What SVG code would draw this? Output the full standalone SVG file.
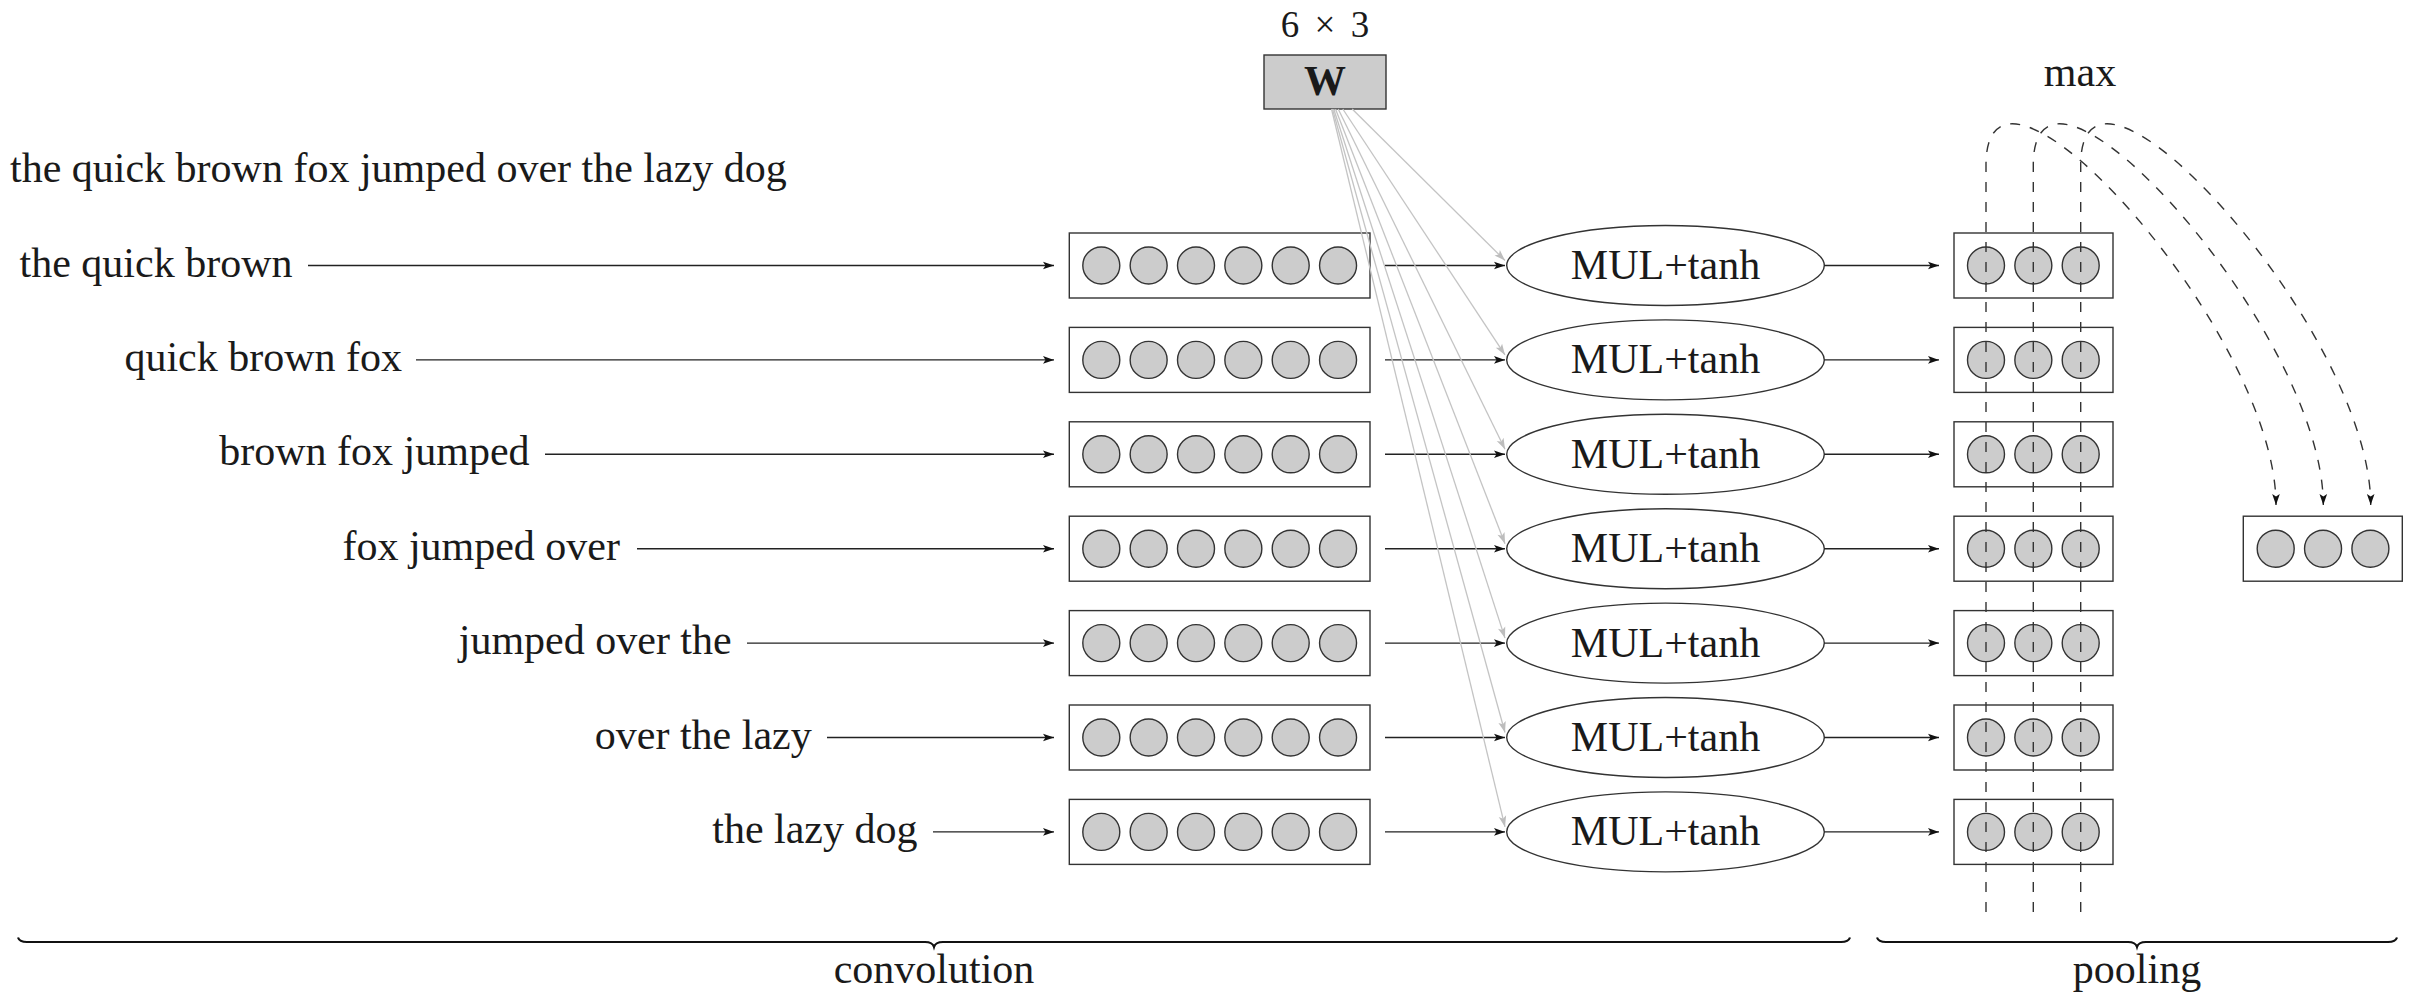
<svg xmlns="http://www.w3.org/2000/svg" width="2414" height="1006" viewBox="0 0 2414 1006">
<defs>
<style>
text{font-family:"Liberation Serif","Times New Roman",serif;font-size:42px;fill:#1a1a1a}
.lbl{text-anchor:end}
.mid{text-anchor:middle}
.box{fill:#fff;stroke:#333;stroke-width:1.4}
.cell{fill:#cccccc;stroke:#333;stroke-width:1.4}
.ell{fill:#fff;stroke:#333;stroke-width:1.4}
.arr{fill:none;stroke:#222;stroke-width:1.4;marker-end:url(#ah)}
.garr{fill:none;stroke:#c4c4c4;stroke-width:1.3;marker-end:url(#gah)}
.darr{fill:none;stroke:#333;stroke-width:1.4;stroke-dasharray:10 10;marker-end:url(#ah)}
.brace{fill:none;stroke:#111;stroke-width:2.2}
</style>
<marker id="ah" markerUnits="userSpaceOnUse" viewBox="-12 -5 13 10" refX="0" refY="0" markerWidth="13" markerHeight="10" orient="auto">
<path d="M0,0 L-11,-3.8 L-8.5,0 L-11,3.8 Z" fill="#111"/>
</marker>
<marker id="gah" markerUnits="userSpaceOnUse" viewBox="-12 -5 13 10" refX="0" refY="0" markerWidth="13" markerHeight="10" orient="auto">
<path d="M0,0 L-11,-3.8 L-8.5,0 L-11,3.8 Z" fill="#bdbdbd"/>
</marker>
<g id="conv6">
<circle class="cell" cx="0" cy="0" r="18.5"/>
<circle class="cell" cx="47.35" cy="0" r="18.5"/>
<circle class="cell" cx="94.7" cy="0" r="18.5"/>
<circle class="cell" cx="142.05" cy="0" r="18.5"/>
<circle class="cell" cx="189.4" cy="0" r="18.5"/>
<circle class="cell" cx="236.75" cy="0" r="18.5"/>
</g>
<g id="pool3">
<circle class="cell" cx="0" cy="0" r="18.5"/>
<circle class="cell" cx="47.35" cy="0" r="18.5"/>
<circle class="cell" cx="94.7" cy="0" r="18.5"/>
</g>
</defs>
<rect width="2414" height="1006" fill="#fff"/>

<text x="10" y="182">the quick brown fox jumped over the lazy dog</text>

<g id="W">
<text class="mid" x="1325" y="37" style="font-size:37px;word-spacing:6px">6 × 3</text>
<rect x="1264" y="55" width="122" height="54" fill="#cccccc" stroke="#333" stroke-width="1.4"/>
<text class="mid" x="1325" y="95" style="font-weight:bold;font-size:42px">W</text>
</g>

<g id="labels">
<text class="lbl" x="292.5" y="276.5">the quick brown</text>
<text class="lbl" x="402" y="371">quick brown fox</text>
<text class="lbl" x="529.6" y="465.3">brown fox jumped</text>
<text class="lbl" x="620" y="559.7">fox jumped over</text>
<text class="lbl" x="731.7" y="654.1">jumped over the</text>
<text class="lbl" x="811.7" y="748.5">over the lazy</text>
<text class="lbl" x="917.5" y="842.9">the lazy dog</text>
</g>

<g id="conv-vectors">
<g id="conv1"><rect class="box" x="1069.3" y="233" width="300.7" height="65"/><use href="#conv6" x="1101.3" y="265.5"/></g>
<g id="conv2"><rect class="box" x="1069.3" y="327.4" width="300.7" height="65"/><use href="#conv6" x="1101.3" y="359.9"/></g>
<g id="conv3"><rect class="box" x="1069.3" y="421.8" width="300.7" height="65"/><use href="#conv6" x="1101.3" y="454.3"/></g>
<g id="conv4"><rect class="box" x="1069.3" y="516.2" width="300.7" height="65"/><use href="#conv6" x="1101.3" y="548.7"/></g>
<g id="conv5"><rect class="box" x="1069.3" y="610.6" width="300.7" height="65"/><use href="#conv6" x="1101.3" y="643.1"/></g>
<g id="conv6r"><rect class="box" x="1069.3" y="705" width="300.7" height="65"/><use href="#conv6" x="1101.3" y="737.5"/></g>
<g id="conv7"><rect class="box" x="1069.3" y="799.4" width="300.7" height="65"/><use href="#conv6" x="1101.3" y="831.9"/></g>
</g>

<g id="mul-nodes">
<g id="mul1"><ellipse class="ell" cx="1665.5" cy="265.5" rx="158.8" ry="40"/><text class="mid" x="1665.5" y="279">MUL+tanh</text></g>
<g id="mul2"><ellipse class="ell" cx="1665.5" cy="359.9" rx="158.8" ry="40"/><text class="mid" x="1665.5" y="373.4">MUL+tanh</text></g>
<g id="mul3"><ellipse class="ell" cx="1665.5" cy="454.3" rx="158.8" ry="40"/><text class="mid" x="1665.5" y="467.8">MUL+tanh</text></g>
<g id="mul4"><ellipse class="ell" cx="1665.5" cy="548.7" rx="158.8" ry="40"/><text class="mid" x="1665.5" y="562.2">MUL+tanh</text></g>
<g id="mul5"><ellipse class="ell" cx="1665.5" cy="643.1" rx="158.8" ry="40"/><text class="mid" x="1665.5" y="656.6">MUL+tanh</text></g>
<g id="mul6"><ellipse class="ell" cx="1665.5" cy="737.5" rx="158.8" ry="40"/><text class="mid" x="1665.5" y="751">MUL+tanh</text></g>
<g id="mul7"><ellipse class="ell" cx="1665.5" cy="831.9" rx="158.8" ry="40"/><text class="mid" x="1665.5" y="845.4">MUL+tanh</text></g>
</g>

<g id="pool-vectors">
<g id="pool1"><rect class="box" x="1954" y="233" width="159" height="65"/><use href="#pool3" x="1986" y="265.5"/></g>
<g id="pool2"><rect class="box" x="1954" y="327.4" width="159" height="65"/><use href="#pool3" x="1986" y="359.9"/></g>
<g id="pool3r"><rect class="box" x="1954" y="421.8" width="159" height="65"/><use href="#pool3" x="1986" y="454.3"/></g>
<g id="pool4"><rect class="box" x="1954" y="516.2" width="159" height="65"/><use href="#pool3" x="1986" y="548.7"/></g>
<g id="pool5"><rect class="box" x="1954" y="610.6" width="159" height="65"/><use href="#pool3" x="1986" y="643.1"/></g>
<g id="pool6"><rect class="box" x="1954" y="705" width="159" height="65"/><use href="#pool3" x="1986" y="737.5"/></g>
<g id="pool7"><rect class="box" x="1954" y="799.4" width="159" height="65"/><use href="#pool3" x="1986" y="831.9"/></g>
</g>

<g id="result">
<rect class="box" x="2243.3" y="516.2" width="159" height="65"/>
<use href="#pool3" x="2275.7" y="548.7"/>
</g>

<text class="mid" x="2080" y="86">max</text>

<g id="connectors">
<path class="arr" d="M308,265.5 H1054"/>
<path class="arr" d="M416,359.9 H1054"/>
<path class="arr" d="M545,454.3 H1054"/>
<path class="arr" d="M637,548.7 H1054"/>
<path class="arr" d="M747,643.1 H1054"/>
<path class="arr" d="M827,737.5 H1054"/>
<path class="arr" d="M933,831.9 H1054"/>

<path class="arr" d="M1385,265.5 H1505"/>
<path class="arr" d="M1385,359.9 H1505"/>
<path class="arr" d="M1385,454.3 H1505"/>
<path class="arr" d="M1385,548.7 H1505"/>
<path class="arr" d="M1385,643.1 H1505"/>
<path class="arr" d="M1385,737.5 H1505"/>
<path class="arr" d="M1385,831.9 H1505"/>

<path class="garr" d="M1352.2,109 L1505,260.5"/>
<path class="garr" d="M1342.8,109 L1505,354.9"/>
<path class="garr" d="M1338.2,109 L1505,449.3"/>
<path class="garr" d="M1335.5,109 L1505,543.7"/>
<path class="garr" d="M1333.7,109 L1505,638.1"/>
<path class="garr" d="M1332.5,109 L1505,732.5"/>
<path class="garr" d="M1331.5,109 L1505,826.9"/>

<path class="arr" d="M1824.3,265.5 H1939"/>
<path class="arr" d="M1824.3,359.9 H1939"/>
<path class="arr" d="M1824.3,454.3 H1939"/>
<path class="arr" d="M1824.3,548.7 H1939"/>
<path class="arr" d="M1824.3,643.1 H1939"/>
<path class="arr" d="M1824.3,737.5 H1939"/>
<path class="arr" d="M1824.3,831.9 H1939"/>

<path class="darr" d="M1986,912 L1986,165 C1986,10 2276,330 2276,505"/>
<path class="darr" d="M2033.3,912 L2033.3,165 C2033.3,10 2323.3,330 2323.3,505"/>
<path class="darr" d="M2080.7,912 L2080.7,165 C2080.7,10 2370.7,330 2370.7,505"/>
</g>

<g id="braces">
<path class="brace" d="M18,937.5 Q19.5,942 27,942 L925,942 Q932.5,942 934,947 Q935.5,942 943,942 L1841,942 Q1848.5,942 1850,937.5"/>
<text class="mid" x="934" y="983">convolution</text>
<path class="brace" d="M1877,937.5 Q1878.5,942 1886,942 L2128,942 Q2135.5,942 2137,947 Q2138.5,942 2146,942 L2388,942 Q2395.5,942 2397,937.5"/>
<text class="mid" x="2137" y="983">pooling</text>
</g>
</svg>
